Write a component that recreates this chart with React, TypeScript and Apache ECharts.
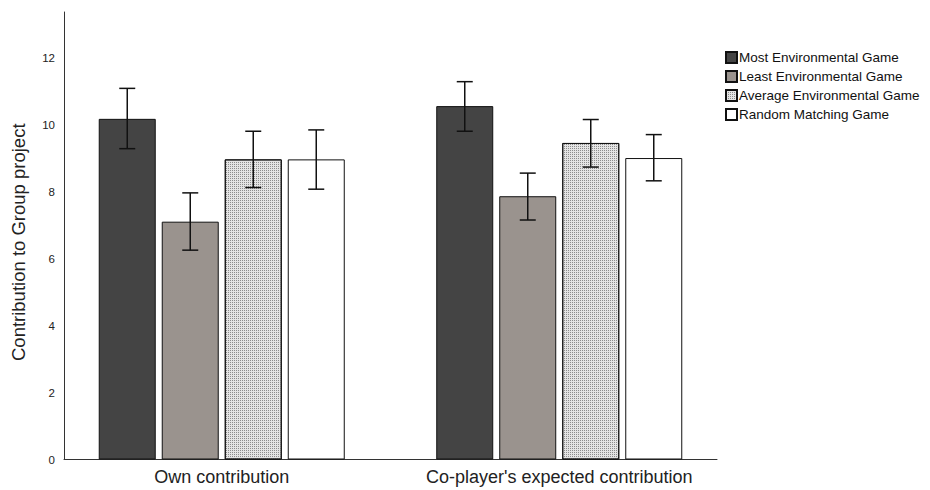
import React, { useEffect, useRef } from "react";
import * as echarts from "echarts";

const categories = ["Own contribution", "Co-player's expected contribution"];
const seriesNames = [
  "Most Environmental Game",
  "Least Environmental Game",
  "Average Environmental Game",
  "Random Matching Game",
];
const mostMean = [10.17, 10.55];
const mostLow = [9.28, 9.8];
const mostHigh = [11.08, 11.28];
const leastMean = [7.1, 7.86];
const leastLow = [6.25, 7.15];
const leastHigh = [7.96, 8.55];
const averageMean = [8.96, 9.45];
const averageLow = [8.12, 8.73];
const averageHigh = [9.8, 10.15];
const randomMean = [8.96, 9.0];
const randomLow = [8.07, 8.32];
const randomHigh = [9.84, 9.7];
const yTicks = [0, 2, 4, 6, 8, 10, 12];

const FONT = "'Liberation Sans', Arial, sans-serif";
const BAR_W = 57;
const BAR_GAP = 6;
const Y_MAX = 13.36;

export default function App() {
  const ref = useRef<HTMLDivElement>(null);
  useEffect(() => {
    if (!ref.current) return;
    const chart = echarts.init(ref.current, null, { renderer: "svg" });
    const means = [mostMean, leastMean, averageMean, randomMean];
    const lows = [mostLow, leastLow, averageLow, randomLow];
    const highs = [mostHigh, leastHigh, averageHigh, randomHigh];
    const styles: any[] = [
      { color: "#444444", borderColor: "#111", borderWidth: 1 },
      { color: "#9a938e", borderColor: "#111", borderWidth: 1 },
      {
        color: "#e4e4e4",
        borderColor: "#111",
        borderWidth: 1,
        decal: {
          symbol: "rect",
          symbolSize: 1,
          dashArrayX: [1, 1],
          dashArrayY: [1, 1],
          rotation: 0,
          color: "#8c8c8c",
        },
      },
      { color: "#ffffff", borderColor: "#111", borderWidth: 1 },
    ];
    const barSeries = seriesNames.map((name, i) => ({
      type: "bar",
      name,
      xAxisIndex: 0,
      yAxisIndex: 0,
      barWidth: BAR_W,
      barGap: ((BAR_GAP / BAR_W) * 100).toFixed(2) + "%",
      itemStyle: styles[i],
      data: means[i],
    }));
    const errSeries = seriesNames.map((name, i) => ({
      type: "custom",
      name: name + " CI",
      xAxisIndex: 0,
      yAxisIndex: 0,
      z: 5,
      data: categories.map((_, c) => [c, lows[i][c], highs[i][c]]),
      renderItem: (params: any, api: any) => {
        const c = api.value(0);
        const lo = api.coord([c, api.value(1)]);
        const hi = api.coord([c, api.value(2)]);
        const x = lo[0] + (i - 1.5) * (BAR_W + BAR_GAP);
        const cap = 8;
        const st = { stroke: "#111", lineWidth: 1.5 };
        return {
          type: "group",
          children: [
            { type: "line", shape: { x1: x, y1: lo[1], x2: x, y2: hi[1] }, style: st },
            { type: "line", shape: { x1: x - cap, y1: lo[1], x2: x + cap, y2: lo[1] }, style: st },
            { type: "line", shape: { x1: x - cap, y1: hi[1], x2: x + cap, y2: hi[1] }, style: st },
          ],
        };
      },
    }));
    chart.setOption({
      animation: false,
      backgroundColor: "#ffffff",
      textStyle: { fontFamily: FONT },
      grid: [
        { left: 53, right: 202, top: 12, bottom: 30.5 },
        { left: 64, right: 213, top: 12, bottom: 30.5 },
      ],
      legend: {
        data: seriesNames,
        orient: "vertical",
        left: 725,
        top: 50,
        padding: 0,
        itemWidth: 11,
        itemHeight: 11,
        itemGap: 4,
        icon: "rect",
        textStyle: {
          fontFamily: FONT,
          fontSize: 13.5,
          lineHeight: 15,
          color: "#111",
          padding: [0, 0, 0, -3],
        },
      },
      xAxis: [
        {
          type: "category",
          gridIndex: 0,
          data: categories,
          axisLine: { show: false },
          axisTick: { show: false },
          axisLabel: { fontSize: 18, color: "#222", margin: 8, interval: 0, fontFamily: FONT },
        },
        {
          type: "category",
          gridIndex: 1,
          data: categories,
          axisLine: { show: true, lineStyle: { color: "#333", width: 1 } },
          axisTick: { show: false },
          axisLabel: { show: false },
        },
      ],
      yAxis: [
        {
          type: "value",
          gridIndex: 0,
          min: 0,
          max: Y_MAX,
          interval: 2,
          show: false,
          splitLine: { show: false },
        },
        {
          type: "value",
          gridIndex: 1,
          min: 0,
          max: Y_MAX,
          interval: 2,
          axisLine: { show: true, lineStyle: { color: "#333", width: 1 } },
          axisTick: { show: false },
          splitLine: { show: false },
          axisLabel: {
            fontSize: 11.5,
            color: "#222",
            margin: 9,
            showMaxLabel: false,
            formatter: (v: number) => (yTicks.includes(v) ? String(v) : ""),
          },
          name: "Contribution to Group project",
          nameLocation: "middle",
          nameGap: 36,
          nameTextStyle: {
            fontSize: 18.5,
            color: "#222",
            fontFamily: FONT,
            padding: [0, 13, 0, 0],
          },
        },
      ],
      series: [...barSeries, ...errSeries],
    });
    return () => chart.dispose();
  }, []);
  return (
    <div
      ref={ref}
      style={{ position: "fixed", left: 0, top: 0, width: 930, height: 490 }}
    />
  );
}
